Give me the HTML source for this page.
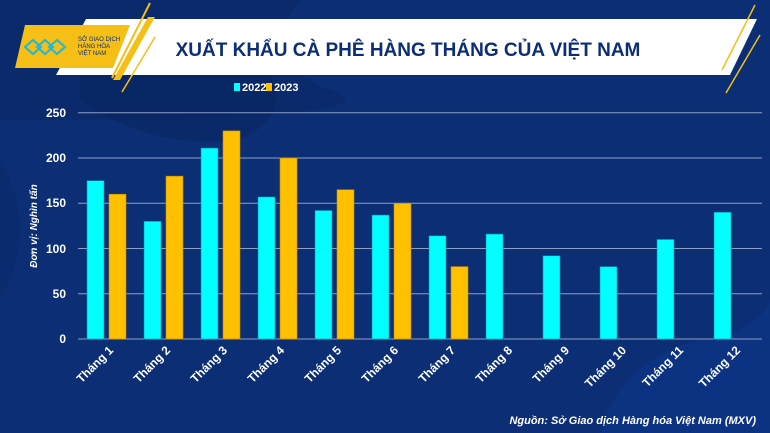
<!DOCTYPE html>
<html><head><meta charset="utf-8"><style>
body{margin:0;width:770px;height:433px;overflow:hidden;background:#0b2d72;font-family:"Liberation Sans",sans-serif}
</style></head><body>
<svg width="770" height="433" xmlns="http://www.w3.org/2000/svg" style="position:absolute;left:0;top:0">
<rect width="770" height="433" fill="#0b2e75"/>
<path d="M0 0 H300 Q250 60 330 90 Q420 120 0 120Z" fill="#0a2866" opacity="0.6"/>
<path d="M80 100 Q150 150 240 140 Q300 110 260 60 L80 60Z" fill="#092660" opacity="0.6"/>
<path d="M600 433 Q620 360 700 340 Q760 330 770 300 V433Z" fill="#0d3488" opacity="0.7"/>
<path d="M0 160 Q40 230 0 300Z" fill="#0a2866" opacity="0.5"/>
<polygon points="86,19 757,19 730,75 56,75" fill="#fff"/>
<polygon points="25,25 130,25 113,68 15,68" fill="#f5bf15"/>
<line x1="150" y1="3" x2="112" y2="78" stroke="#f5bf15" stroke-width="2"/>
<polygon points="148,17 155,17 120,80 113,80" fill="#f5bf15"/>
<line x1="155" y1="37" x2="122" y2="92" stroke="#f5bf15" stroke-width="1.5"/>
<line x1="755" y1="5" x2="722" y2="70" stroke="#f5bf15" stroke-width="1.5"/>
<line x1="760" y1="35" x2="726" y2="93" stroke="#f5bf15" stroke-width="1.5"/>
<path d="M33 40 l8 7 -8 7 -8 -7z M45 40 l8 7 -8 7 -8 -7z M57 40 l8 7 -8 7 -8 -7z" fill="none" stroke="#1fb8d8" stroke-width="2"/>
<text x="78" y="41" font-size="6" fill="#0b2e75">SỞ GIAO DỊCH</text>
<text x="78" y="48" font-size="6" fill="#0b2e75">HÀNG HÓA</text>
<text x="78" y="55" font-size="6" fill="#0b2e75">VIỆT NAM</text>
<text x="408" y="56" font-size="19" font-weight="bold" fill="#0b2e75" text-anchor="middle">XUẤT KHẨU CÀ PHÊ HÀNG THÁNG CỦA VIỆT NAM</text>
<rect x="234" y="83" width="6" height="8" fill="#00ffff"/>
<text x="242" y="91" font-size="11" font-weight="bold" fill="#fff">2022</text>
<rect x="266" y="83" width="6" height="8" fill="#ffc000"/>
<text x="274" y="91" font-size="11" font-weight="bold" fill="#fff">2023</text>
<g stroke="#8da0c4" stroke-width="1">
<line x1="78" x2="762" y1="112.7" y2="112.7"/><line x1="78" x2="762" y1="158" y2="158"/>
<line x1="78" x2="762" y1="203.2" y2="203.2"/><line x1="78" x2="762" y1="248.5" y2="248.5"/>
<line x1="78" x2="762" y1="293.7" y2="293.7"/><line x1="78" x2="762" y1="339" y2="339"/></g>
<g font-size="12" font-weight="bold" fill="#fff" text-anchor="end">
<text x="66" y="117">250</text><text x="66" y="162">200</text><text x="66" y="207">150</text>
<text x="66" y="253">100</text><text x="66" y="298">50</text><text x="66" y="343">0</text></g>
<text transform="translate(37 226) rotate(-90)" font-size="10" font-weight="bold" font-style="italic" fill="#fff" text-anchor="middle">Đơn vị:  Nghìn tấn</text>
<g id="bars"></g>
<text x="756" y="424" font-size="11" font-weight="bold" font-style="italic" fill="#fff" text-anchor="end">Nguồn: Sở Giao dịch Hàng hóa Việt Nam (MXV)</text>
</svg>
<script>
var a=[175,130,211,157,142,137,114,116,92,80,110,140],b=[160,180,230,200,165,150,80];
var g=document.getElementById('bars'),s='',k=0.9048;
for(var i=0;i<12;i++){var x=78+57*i;
s+='<rect x="'+(x+9)+'" y="'+(339-a[i]*k)+'" width="17" height="'+(a[i]*k)+'" fill="#00ffff" stroke="#0a8fb0" stroke-width="0.6"/>';
if(i<7)s+='<rect x="'+(x+31)+'" y="'+(339-b[i]*k)+'" width="17" height="'+(b[i]*k)+'" fill="#ffc000" stroke="#c08a00" stroke-width="0.6"/>';
s+='<text transform="translate('+(x+36)+' 351) rotate(-45)" font-size="12" font-weight="bold" fill="#fff" text-anchor="end">Tháng '+(i+1)+'</text>';}
g.innerHTML=s;
</script>
</body></html>
